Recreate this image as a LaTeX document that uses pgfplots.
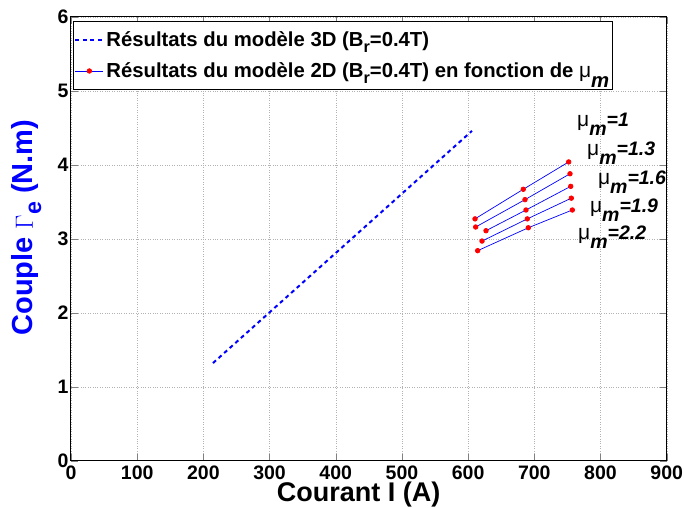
\documentclass[border=0pt]{standalone}
\usepackage{fontspec}
\setmainfont{Liberation Sans}
\usepackage{pgfplots}
\pgfplotsset{compat=1.18}

% lowered subscript, as MATLAB draws it
\newcommand\sub[1]{\raisebox{-0.55ex}{\scalebox{0.8}{#1}}}
\newcommand\mum{{\mdseries\fontsize{21}{22}\selectfont μ}\raisebox{-0.9ex}{\bfseries\itshape m}}
\newcommand\mulab[1]{\mum{\bfseries\itshape =#1}}

\begin{document}
\begin{tikzpicture}
\begin{axis}[name=ax,
  scale only axis, width=595.7pt, height=443.7pt,
  xmin=0, xmax=900, ymin=0, ymax=6,
  xtick={0,100,...,900}, ytick={0,1,...,6},
  grid=major, major grid style={dotted, gray!60},
  tick align=inside, tick pos=both, major tick length=7pt,
  axis line style={line width=1pt},
  /pgf/number format/assume math mode=true,
  ticklabel style={font=\fontsize{19.5}{22}\selectfont\bfseries},
  xticklabel style={yshift=-2pt},
  yticklabel style={xshift=1pt},
  xlabel={Courant I (A)},
  xlabel style={font=\fontsize{27}{30}\selectfont\bfseries, at={(axis description cs:0.483,-0.077)}, anchor=center},
  ylabel={Couple $\Gamma$\sub{e} (N.m)},
  ylabel style={font=\fontsize{29}{32}\selectfont\bfseries\color{blue}, at={(axis description cs:-0.0745,0.525)}, anchor=center},
  legend style={at={(axis description cs:0,1)}, anchor=north west, xshift=2pt, yshift=-4pt,
    font=\fontsize{20.3}{22}\selectfont\bfseries, draw=black, line width=0.8pt,
    inner xsep=1pt, inner ysep=8pt, row sep=11pt},
  legend cell align=left,
  legend image code/.code={\draw[mark repeat=2,mark phase=2,#1] plot coordinates {(0pt,0pt) (14pt,0pt) (28pt,0pt)};},
]
% 3D model
\addplot[blue, line width=2pt, dash pattern=on 4pt off 3.5pt] coordinates {
  (214.5,1.32) (605.8,4.46)
};
\addlegendentry{Résultats du modèle 3D (B\sub{r}=0.4T)}
% 2D model, one line per mu_m
\addplot[blue, line width=0.7pt, mark=*, mark size=2.3pt, mark options={red, fill=red, draw=red}] coordinates {
  (610.4,3.27) (683.3,3.67) (751.9,4.04)
};
\addlegendentry{Résultats du modèle 2D (B\sub{r}=0.4T) en fonction de \mum}
\addplot[blue, line width=0.7pt, mark=*, mark size=2.3pt, mark options={red, fill=red, draw=red}, forget plot] coordinates {
  (611.4,3.16) (685.9,3.53) (753.9,3.88)
};
\addplot[blue, line width=0.7pt, mark=*, mark size=2.3pt, mark options={red, fill=red, draw=red}, forget plot] coordinates {
  (627.0,3.11) (687.4,3.39) (755.0,3.71)
};
\addplot[blue, line width=0.7pt, mark=*, mark size=2.3pt, mark options={red, fill=red, draw=red}, forget plot] coordinates {
  (621.0,2.97) (689.4,3.27) (755.9,3.55)
};
\addplot[blue, line width=0.7pt, mark=*, mark size=2.3pt, mark options={red, fill=red, draw=red}, forget plot] coordinates {
  (614.4,2.84) (690.9,3.15) (757.4,3.39)
};
\begin{scope}[every node/.style={anchor=base west, inner sep=0pt, font=\fontsize{19.5}{22}\selectfont}]
\node at (axis cs:764.5,4.52) {\mulab{1}};
\node at (axis cs:779.6,4.13) {\mulab{1.3}};
\node at (axis cs:796,3.74) {\mulab{1.6}};
\node at (axis cs:784,3.36) {\mulab{1.9}};
\node at (axis cs:766,2.99) {\mulab{2.2}};
\end{scope}
\end{axis}
\pgfresetboundingbox
\path[use as bounding box] ([xshift=-71pt,yshift=-47.3pt]ax.south west) rectangle ([xshift=17.3pt,yshift=17pt]ax.north east);
\end{tikzpicture}
\end{document}
